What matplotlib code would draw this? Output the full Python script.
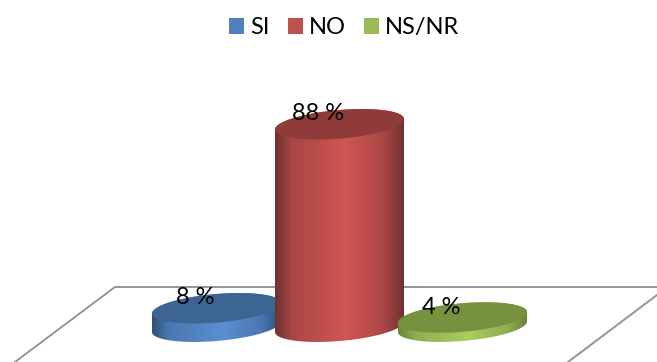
import numpy as np
import matplotlib
matplotlib.use("Agg")
import matplotlib.pyplot as plt
from matplotlib.colors import LinearSegmentedColormap
from matplotlib.patches import Patch, Polygon
from matplotlib.lines import Line2D

categories = ["SI", "NO", "NS/NR"]
values = [8, 88, 4]
value_labels = ["8 %", "88 %", "4 %"]

W, H = 657, 362
PX_PER_CAT = 123.0
PX_PER_PCT = 2.3
ORIGIN_X, ORIGIN_Y = 216.5, 326.7  # pixel position of category 0 at value 0

plt.rcParams["font.family"] = ["Lato", "DejaVu Sans"]
fig = plt.figure(figsize=(W / 100, H / 100), dpi=100, facecolor="white")
ax = fig.add_axes([0, 0, 1, 1])
ax.axis("off")

# Cylinder ellipse: horizontal radius, rim tilt and vertical radius, in pixels
RX, TILT, RY = 64.5, 5.3, 14.3

styles = {
    "SI": dict(face="#4f81bd", top="#3d6593", edge="#2f5078", mid="#4a78b0", light="#5a8fd2"),
    "NO": dict(face="#c0504d", top="#8f3b39", edge="#6f3230", mid="#a84745", light="#cf5653"),
    "NS/NR": dict(face="#9bbb59", top="#76923f", edge="#6b8538", mid="#8eae50", light="#a8cf60"),
}


def rim(i, v, t):
    x = i + RX * np.cos(t) / PX_PER_CAT
    y = v + (TILT * np.cos(t) + RY * np.sin(t)) / PX_PER_PCT
    return x, y


def cylinder(i, v, s, z):
    # Side wall: upper rim from left to right, then lower rim back from right to left
    t_top = np.linspace(np.pi, 0, 80)
    t_bot = np.linspace(0, -np.pi, 80)
    xt, yt = rim(i, v, t_top)
    xb, yb = rim(i, 0, t_bot)
    wall = Polygon(np.column_stack([np.r_[xt, xb], np.r_[yt, yb]]), closed=True,
                   transform=ax.transData, facecolor="none", edgecolor="none")
    ax.add_patch(wall)
    cmap = LinearSegmentedColormap.from_list(
        "wall", [(0, s["edge"]), (0.13, s["mid"]), (0.55, s["light"]),
                 (0.85, s["mid"]), (1, s["edge"])])
    grad = np.linspace(0, 1, 256)[None, :]
    im = ax.imshow(grad, cmap=cmap, aspect="auto", zorder=z,
                   extent=[i - RX / PX_PER_CAT, i + RX / PX_PER_CAT,
                           yb.min(), yt.max()], interpolation="bilinear")
    im.set_clip_path(wall)
    # Upper cap
    t = np.linspace(0, 2 * np.pi, 160)
    xc, yc = rim(i, v, t)
    ax.fill(xc, yc, color=s["top"], lw=0, zorder=z + 0.1)


# Floor outline behind the cylinders
floor_color = "#949494"
for xs, ys in [((15, 115, 657), (362, 287, 287)), ((568, 657), (362, 295))]:
    fig.add_artist(Line2D(np.array(xs) / W, 1 - np.array(ys) / H,
                          color=floor_color, lw=1.4, transform=fig.transFigure, zorder=0))

draw_order = {"SI": 2, "NO": 3, "NS/NR": 4}
for i, (cat, v) in enumerate(zip(categories, values)):
    cylinder(i, v, styles[cat], draw_order[cat])

ax.set_xlim(-ORIGIN_X / PX_PER_CAT, (W - ORIGIN_X) / PX_PER_CAT)
ax.set_ylim((ORIGIN_Y - H) / PX_PER_PCT, ORIGIN_Y / PX_PER_PCT)

# Value labels sit slightly left of each cap centre
for i, (v, lab) in enumerate(zip(values, value_labels)):
    ax.text(i - 21 / PX_PER_CAT, v + 10.5 / PX_PER_PCT, lab, ha="center", va="center",
            fontsize=17, color="black", zorder=10)

handles = [Patch(facecolor=styles[c]["face"], edgecolor="none", label=c) for c in categories]
fig.legend(handles=handles, loc="upper center", bbox_to_anchor=(344 / W, 1 + 4 / H), ncol=3,
           frameon=False, fontsize=17, handlelength=0.64, handleheight=0.68,
           handletextpad=0.25, columnspacing=0.77, labelcolor="black")

fig.savefig("out.png", dpi=100, facecolor="white")
